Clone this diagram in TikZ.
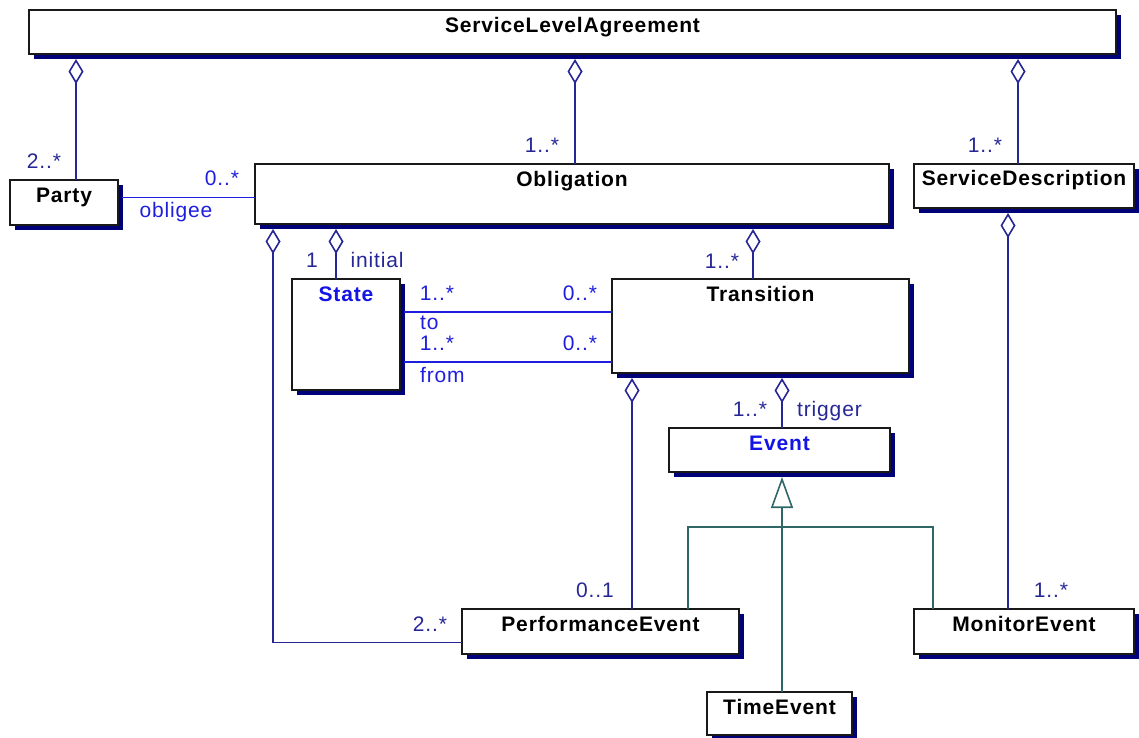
\documentclass[tikz,border=0pt]{standalone}
\usepackage{fontspec}
\setmainfont{Liberation Sans}[LetterSpace=4]
\usetikzlibrary{arrows.meta,calc,shadows}
\definecolor{shadownavy}{RGB}{0,0,120}
\definecolor{aggnavy}{RGB}{38,38,150}
\definecolor{assocblue}{RGB}{30,30,220}
\definecolor{gencol}{RGB}{47,103,103}
\definecolor{boxline}{RGB}{25,25,25}
\definecolor{linkblue}{RGB}{20,20,230}

\begin{document}
\begin{tikzpicture}[x=1pt,y=-1pt,
  umlclass/.style={rectangle, draw=boxline, line width=1.5pt, fill=white,
    inner sep=0pt, outer sep=0pt, anchor=north west,
    drop shadow={shadow xshift=4.5pt, shadow yshift=-4.5pt, fill=shadownavy, opacity=1}},
  classname/.style={font=\bfseries\fontsize{21}{24}\selectfont, anchor=base, inner sep=0pt},
  mult/.style={font=\fontsize{21}{24}\selectfont, anchor=base, inner sep=0pt},
  aggmult/.style={mult, text=aggnavy},
  assocmult/.style={mult, text=assocblue},
  agg/.style={draw=aggnavy, line width=1.6pt, {Diamond[open,length=25pt,width=15pt]}-},
  assoc/.style={draw=assocblue, line width=1.6pt},
  gen/.style={draw=gencol, line width=1.6pt},
]
\useasboundingbox (0,0) rectangle (1139,737);

% classes
\node[umlclass, minimum width=1087pt, minimum height=44pt] (sla)   at (29,10)   {};
\node[umlclass, minimum width=108pt,  minimum height=45pt] (party) at (10,180)  {};
\node[umlclass, minimum width=634pt,  minimum height=60pt] (obl)   at (255,164) {};
\node[umlclass, minimum width=220pt,  minimum height=44pt] (sd)    at (914,164) {};
\node[umlclass, minimum width=108pt,  minimum height=111pt] (state) at (292,279) {};
\node[umlclass, minimum width=297pt,  minimum height=94pt] (trans) at (612,279) {};
\node[umlclass, minimum width=221pt,  minimum height=44pt] (event) at (669,428) {};
\node[umlclass, minimum width=277pt,  minimum height=45pt] (perf)  at (462,609) {};
\node[umlclass, minimum width=220pt,  minimum height=45pt] (mon)   at (914,609) {};
\node[umlclass, minimum width=145pt,  minimum height=43pt] (time)  at (707,692) {};

% class names
\node[classname] at ($(sla.north)+(0,22.5)$)   {ServiceLevelAgreement};
\node[classname] at ($(party.north)+(0,22.5)$) {Party};
\node[classname] at ($(obl.north)+(0,22.5)$)   {Obligation};
\node[classname] at ($(sd.north)+(0,21.5)$)    {ServiceDescription};
\node[classname, text=linkblue] at ($(state.north)+(0,22.5)$) {State};
\node[classname] at ($(trans.north)+(0,22.5)$) {Transition};
\node[classname, text=linkblue] at ($(event.north)+(0,22.5)$) {Event};
\node[classname] at ($(perf.north)+(0,22.5)$)  {PerformanceEvent};
\node[classname] at ($(mon.north)+(0,22.5)$)   {MonitorEvent};
\node[classname] at ($(time.north)+(0,22.5)$)  {TimeEvent};

% aggregations (diamond on the whole side, just below its shadow)
\draw[agg] ($(party.north |- sla.south)+(12,5)$) coordinate (a1) -- (a1 |- party.north);
\draw[agg] ($(obl.north |- sla.south)+(3,5)$) coordinate (a2) -- (a2 |- obl.north);
\draw[agg] ($(sd.north |- sla.south)+(-6,5)$) coordinate (a3) -- (a3 |- sd.north);
\draw[agg] ($(state.north |- obl.south)+(-10,5)$) coordinate (a4) -- (a4 |- state.north);
\draw[agg] ($(obl.south west)+(18,5)$) |- ($(perf.west)+(0,11)$);
\draw[agg] ($(trans.north |- obl.south)+(-7.5,5)$) coordinate (a6) -- (a6 |- trans.north);
\draw[agg] ($(trans.south west)+(20,5)$) coordinate (a7) -- (a7 |- perf.north);
\draw[agg] ($(event.north |- trans.south)+(2.5,5)$) coordinate (a8) -- (a8 |- event.north);
\draw[agg] ($(sd.south)+(-16,5)$) coordinate (a9) -- (a9 |- mon.north);

% plain associations
\draw[assoc] ($(party.east)+(4,-5)$) coordinate (po) -- (po -| obl.west);
\draw[assoc] ($(state.east)+(4,-22.5)$) coordinate (st) -- (st -| trans.west);
\draw[assoc] ($(state.east)+(4,27.5)$) coordinate (sf) -- (sf -| trans.west);

% generalization
\draw[gen, {Triangle[open,length=31pt,width=22pt]}-] ($(event.south)+(2.5,5)$) coordinate (g0) -- (g0 |- time.north);
\draw[gen] ($(perf.north)+(87.5,0)$) |- ($(event.south)+(0,55)$) -| ($(mon.north)+(-91,0)$);

% multiplicities and role names
\node[aggmult] at (44,168)   {2..*};
\node[assocmult] at (222,185) {0..*};
\node[assocmult] at (176,217) {obligee};
\node[aggmult] at (542,152)  {1..*};
\node[aggmult] at (985,152)  {1..*};
\node[aggmult] at (312,267)  {1};
\node[aggmult] at (377,267)  {initial};
\node[aggmult] at (722,268)  {1..*};
\node[assocmult] at (437,300) {1..*};
\node[assocmult] at (580,300) {0..*};
\node[assocmult, anchor=base west] at (420,329) {to};
\node[assocmult] at (437,350) {1..*};
\node[assocmult] at (580,350) {0..*};
\node[assocmult, anchor=base west] at (420,382) {from};
\node[aggmult] at (750,416)  {1..*};
\node[aggmult, anchor=base west] at (797,416) {trigger};
\node[aggmult] at (595,597)  {0..1};
\node[aggmult] at (430,631)  {2..*};
\node[aggmult] at (1051,597) {1..*};
\end{tikzpicture}
\end{document}
